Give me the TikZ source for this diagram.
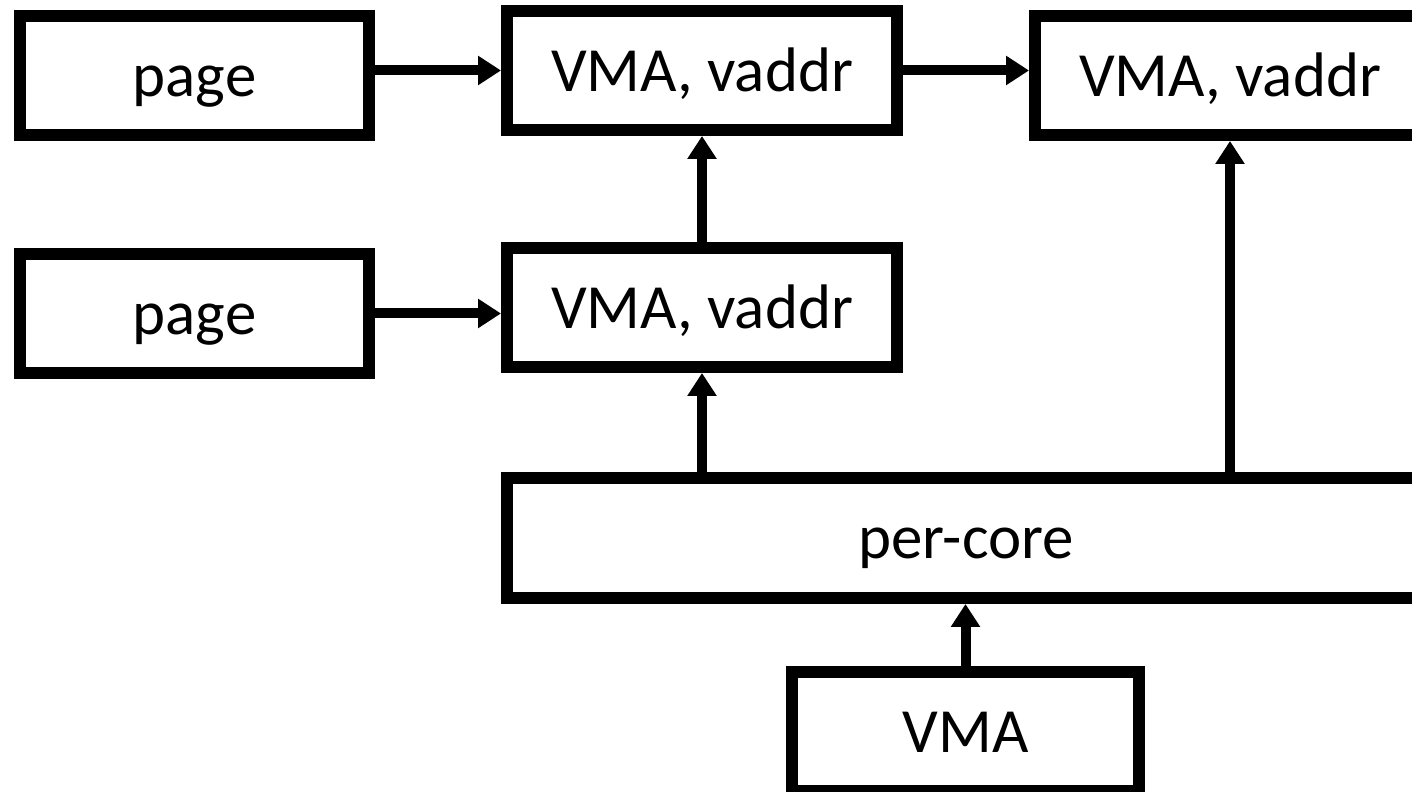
\documentclass[tikz,border=0pt]{standalone}
\usepackage{fontspec}
\setmainfont{Carlito}
\usepackage{tikz}
\usetikzlibrary{arrows.meta}

\begin{document}
\begin{tikzpicture}[
  box/.style={draw,line width=0.12cm,minimum height=1.19cm,inner sep=0pt,
    text height=0.58cm,text depth=0.16cm,font=\fontsize{17.9}{21}\selectfont},
  arr/.style={line width=0.1cm,-{Triangle[length=0.23cm,width=0.28cm]}}
]
\useasboundingbox (0,0) rectangle (14.12,7.92);
\clip (0,0) rectangle (14.12,7.92);
% boxes
\node[box,minimum width=3.49cm] (page1) at (1.945,7.165) {page};
\node[box,minimum width=3.49cm] (page2) at (1.945,4.785) {page};
\node[box,minimum width=3.90cm] (vma1) at (7.02,7.215) {VMA, vaddr};
\node[box,minimum width=3.90cm] (vma2) at (7.02,4.845) {VMA, vaddr};
\node[box,minimum width=3.90cm] (vma3) at (12.30,7.165) {VMA, vaddr};
\node[box,minimum width=9.18cm,minimum height=1.20cm] (percore) at (9.66,2.54) {per-core};
\node[box,minimum width=3.47cm] (vma) at (9.655,0.60) {VMA};
% arrows
\draw[arr] (page1.east |- vma1) -- (vma1.west);
\draw[arr] (page2.east) -- (vma2.west |- page2.east);
\draw[arr] (vma1.east) -- (vma3.west |- vma1.east);
\draw[arr] (vma2.north) -- (vma1.south);
\draw[arr] (percore.north -| vma2) -- (vma2.south);
\draw[arr] (percore.north -| vma3) -- (vma3.south);
\draw[arr] (vma.north) -- (vma.north |- percore.south);
\end{tikzpicture}
\end{document}
